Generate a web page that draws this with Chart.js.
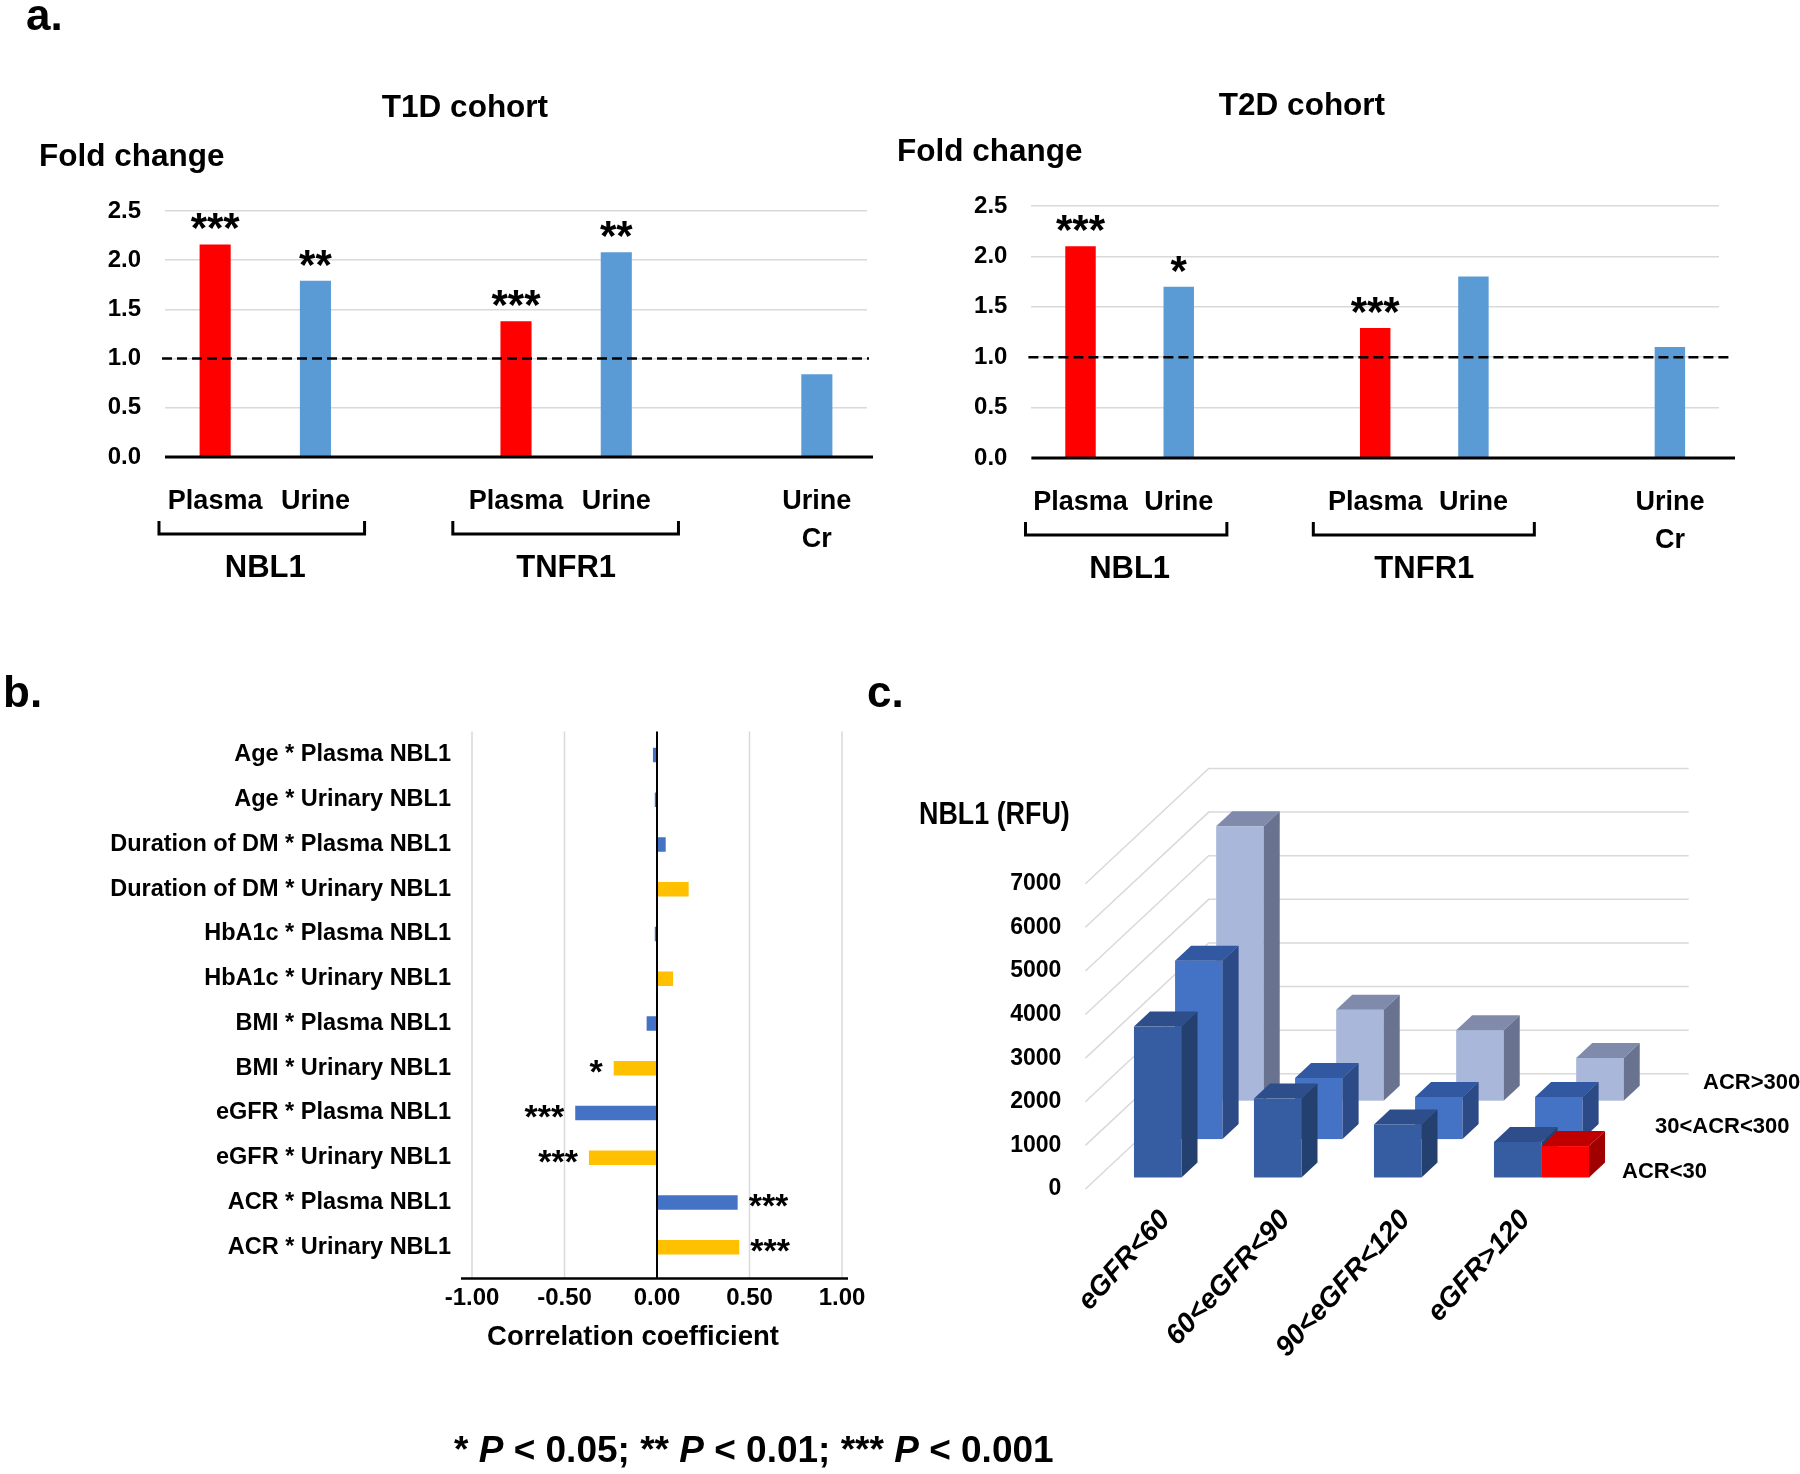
<!DOCTYPE html>
<html>
<head>
<meta charset="utf-8">
<title>NBL1 fold change, correlation and RFU</title>
<script src="https://cdn.jsdelivr.net/npm/chart.js@4.4.1/dist/chart.umd.min.js"></script>
<style>
  html, body { margin: 0; padding: 0; background: #fff; }
  #page { position: relative; width: 1800px; height: 1474px; overflow: hidden;
          font-family: "Liberation Sans", Arial, sans-serif; font-weight: bold; color: #000; }
  #page canvas { position: absolute; }
  .txt { position: absolute; white-space: nowrap; line-height: 1; }
  .narrow { transform: scaleX(0.84); transform-origin: 0 0; }
</style>
</head>
<body>
<div id="page">
  <canvas id="t1d" width="890" height="620" style="left:0;top:0"></canvas>
  <canvas id="t2d" width="910" height="620" style="left:890px;top:0"></canvas>
  <canvas id="corr" width="900" height="740" style="left:0;top:640px"></canvas>
  <canvas id="rfu" width="920" height="734" style="left:880px;top:740px"></canvas>

  <div class="txt" style="left:26px;top:-7px;font-size:44px">a.</div>
  <div class="txt" style="left:265px;top:91px;width:400px;text-align:center;font-size:31.5px">T1D cohort</div>
  <div class="txt" style="left:1102px;top:89px;width:400px;text-align:center;font-size:31.5px">T2D cohort</div>
  <div class="txt" style="left:39px;top:140px;font-size:31.5px">Fold change</div>
  <div class="txt" style="left:897px;top:135px;font-size:31.5px">Fold change</div>

  <div class="txt" style="left:3px;top:670px;font-size:44px">b.</div>
  <div class="txt" style="left:867px;top:670px;font-size:44px">c.</div>
  <div class="txt" style="left:433px;top:1322px;width:400px;text-align:center;font-size:27.5px">Correlation coefficient</div>

  <div class="txt narrow" style="left:919px;top:797px;font-size:32px">NBL1 (RFU)</div>
  <div class="txt" id="acr2" style="left:1703px;top:1071px;font-size:22px"></div>
  <div class="txt" id="acr1" style="left:1655px;top:1115px;font-size:22px"></div>
  <div class="txt" id="acr0" style="left:1622px;top:1160px;font-size:22px"></div>

  <div class="txt" style="left:454px;top:1431px;font-size:37px">* <i>P</i> &lt; 0.05; ** <i>P</i> &lt; 0.01; *** <i>P</i> &lt; 0.001</div>
</div>

<script>
/* ---- a. fold change ---- */
var foldLabels = ['Plasma', 'Urine', '', 'Plasma', 'Urine', '', ['Urine', 'Cr']];
var foldGroups = [['NBL1', 0, 1], ['TNFR1', 3, 4]];
var t1dFold = [2.16, 1.79, null, 1.38, 2.08, null, 0.84];
var t1dStars = ['***', '**', '', '***', '**', '', ''];
var t2dFold = [2.10, 1.70, null, 1.29, 1.80, null, 1.10];
var t2dStars = ['***', '*', '', '***', '', '', ''];
var foldRef = 1.0;

/* ---- b. correlation ---- */
var corrLabels = [
  'Age * Plasma NBL1', 'Age * Urinary NBL1',
  'Duration of DM * Plasma NBL1', 'Duration of DM * Urinary NBL1',
  'HbA1c * Plasma NBL1', 'HbA1c * Urinary NBL1',
  'BMI * Plasma NBL1', 'BMI * Urinary NBL1',
  'eGFR * Plasma NBL1', 'eGFR * Urinary NBL1',
  'ACR * Plasma NBL1', 'ACR * Urinary NBL1'
];
var corrValues = [-0.022, -0.012, 0.047, 0.171, -0.012, 0.087, -0.056, -0.234, -0.442, -0.368, 0.436, 0.445];
var corrStars = ['', '', '', '', '', '', '', '*', '***', '***', '***', '***'];

/* ---- c. NBL1 RFU by eGFR / ACR ---- */
var egfrGroups = ['eGFR<60', '60<eGFR<90', '90<eGFR<120', 'eGFR>120'];
var acrGroups = ['ACR<30', '30<ACR<300', 'ACR>300'];
var acrLow = [3460, 1810, 1215, 815];
var acrMid = [4090, 1400, 965, 965];
var acrHigh = [6290, 2085, 1615, 980];
var acrLowRef = [null, null, null, 720];

// colours
var RED = '#FF0000', SKY = '#5B9BD5', BLUE = '#4472C4', GOLD = '#FFC000', GRID = '#D9D9D9';
var foldColors = [RED, SKY, SKY, RED, SKY, SKY, SKY];
var corrColors = [BLUE, BLUE, BLUE, GOLD, BLUE, GOLD, BLUE, GOLD, BLUE, GOLD, BLUE, GOLD];
// bracket overhang, in category widths, left / right of each group
var bracketPad = [[0.56, 0.49], [0.63, 0.62]];

Chart.defaults.color = '#000';
Chart.defaults.font.family = '"Liberation Sans", Arial, sans-serif';
Chart.defaults.font.weight = 'bold';
Chart.defaults.animation = false;
Chart.defaults.plugins.legend.display = false;
Chart.defaults.plugins.tooltip.enabled = false;

/* dashed reference, base line, stars and brackets */
var foldPlugin = {
  id: 'foldExtras',
  afterDatasetsDraw: function(chart, args, o) {
    var ctx = chart.ctx, a = chart.chartArea, x = chart.scales.x, y = chart.scales.y;
    var slot = x.getPixelForValue(1) - x.getPixelForValue(0);
    var y0 = y.getPixelForValue(0), yr = y.getPixelForValue(foldRef);
    ctx.save();
    ctx.strokeStyle = '#000';
    ctx.lineWidth = 3;
    ctx.beginPath(); ctx.moveTo(a.left, y0); ctx.lineTo(a.right + o.ext, y0); ctx.stroke();

    ctx.lineWidth = 2.5;
    ctx.setLineDash([10, 5]);
    ctx.beginPath(); ctx.moveTo(a.left - 3, yr); ctx.lineTo(a.right + o.ext - 4, yr); ctx.stroke();
    ctx.setLineDash([]);

    ctx.fillStyle = '#000';
    ctx.textAlign = 'center';
    ctx.textBaseline = 'alphabetic';
    ctx.font = 'bold 42px "Liberation Sans", Arial';
    chart.getDatasetMeta(0).data.forEach(function(bar, i) {
      if (o.stars[i]) ctx.fillText(o.stars[i], bar.x, bar.y - 2);
    });

    ctx.font = 'bold 31px "Liberation Sans", Arial';
    ctx.lineWidth = 3;
    o.groups.forEach(function(g, k) {
      var l = x.getPixelForValue(g[1]) - bracketPad[k][0] * slot;
      var r = x.getPixelForValue(g[2]) + bracketPad[k][1] * slot;
      ctx.beginPath();
      ctx.moveTo(l, y0 + 64); ctx.lineTo(l, y0 + 77); ctx.lineTo(r, y0 + 77); ctx.lineTo(r, y0 + 64);
      ctx.stroke();
      ctx.fillText(g[0], (x.getPixelForValue(g[1]) + x.getPixelForValue(g[2])) / 2, y0 + 119.5);
    });
    ctx.restore();
  }
};

function foldChart(id, values, stars, box) {
  return new Chart(document.getElementById(id), {
    type: 'bar',
    data: {
      labels: foldLabels,
      datasets: [{ data: values, backgroundColor: foldColors, barPercentage: 0.31, categoryPercentage: 1 }]
    },
    options: {
      responsive: false,
      layout: { padding: { left: 0, top: box.top, right: box.right, bottom: 0 } },
      scales: {
        x: {
          grid: { display: false, drawTicks: false }, border: { display: false },
          ticks: { font: { size: 27, lineHeight: 1.42 }, padding: 25, maxRotation: 0, autoSkip: false },
          afterFit: function(s) { s.height = box.xh; }
        },
        y: {
          min: 0, max: 2.5,
          grid: { color: GRID, lineWidth: 1.5, drawTicks: false }, border: { display: false },
          ticks: { stepSize: 0.5, font: { size: 24 }, padding: 24, callback: function(v) { return v.toFixed(1); } },
          afterFit: function(s) { s.width = box.yw; }
        }
      },
      plugins: { foldExtras: { stars: stars, groups: foldGroups, ext: box.ext } }
    },
    plugins: [foldPlugin]
  });
}

foldChart('t1d', t1dFold, t1dStars, { top: 211, right: 23, xh: 163, yw: 165, ext: 6 });
foldChart('t2d', t2dFold, t2dStars, { top: 206, right: 81, xh: 162, yw: 141.4, ext: 16 });

/* grid, zero line, axis line and stars for the correlation bars */
var corrPlugin = {
  id: 'corrExtras',
  beforeDatasetsDraw: function(chart) {
    var ctx = chart.ctx, a = chart.chartArea, x = chart.scales.x;
    ctx.save();
    ctx.strokeStyle = GRID;
    ctx.lineWidth = 1.5;
    x.ticks.forEach(function(t) {
      if (Math.abs(t.value) < 1e-9) return;
      var px = x.getPixelForValue(t.value);
      ctx.beginPath(); ctx.moveTo(px, a.top - 1); ctx.lineTo(px, a.bottom + 9); ctx.stroke();
    });
    ctx.restore();
  },
  afterDatasetsDraw: function(chart, args, o) {
    var ctx = chart.ctx, a = chart.chartArea, x = chart.scales.x;
    var zx = x.getPixelForValue(0);
    ctx.save();
    ctx.strokeStyle = '#000';
    ctx.lineWidth = 2;
    ctx.beginPath(); ctx.moveTo(zx, a.top - 1); ctx.lineTo(zx, a.bottom + 9); ctx.stroke();
    ctx.lineWidth = 2.5;
    ctx.beginPath(); ctx.moveTo(a.left - 11, a.bottom + 9); ctx.lineTo(a.right + 6, a.bottom + 9); ctx.stroke();

    ctx.fillStyle = '#000';
    ctx.font = 'bold 34px "Liberation Sans", Arial';
    ctx.textBaseline = 'alphabetic';
    chart.getDatasetMeta(0).data.forEach(function(bar, i) {
      if (!o.stars[i]) return;
      var neg = corrValues[i] < 0;
      ctx.textAlign = neg ? 'right' : 'left';
      ctx.fillText(o.stars[i], bar.x + (neg ? -11 : 11), bar.y + 15);
    });
    ctx.restore();
  }
};

new Chart(document.getElementById('corr'), {
  type: 'bar',
  data: {
    labels: corrLabels,
    datasets: [{ data: corrValues, backgroundColor: corrColors, barPercentage: 0.32, categoryPercentage: 1 }]
  },
  options: {
    indexAxis: 'y',
    responsive: false,
    layout: { padding: { left: 0, top: 92.6, right: 58, bottom: 0 } },
    scales: {
      x: {
        min: -1, max: 1,
        grid: { display: false, drawTicks: false }, border: { display: false },
        ticks: { stepSize: 0.5, font: { size: 24 }, padding: 14, callback: function(v) { return v.toFixed(2); } },
        afterFit: function(s) { s.height = 110.4; }
      },
      y: {
        grid: { display: false, drawTicks: false }, border: { display: false },
        ticks: { font: { size: 23.5 }, padding: 21, autoSkip: false },
        afterFit: function(s) { s.width = 472; }
      }
    },
    plugins: { corrExtras: { stars: corrStars } }
  },
  plugins: [corrPlugin]
});

/* pseudo 3D columns: side wall, back wall and boxes drawn from the scales */
var cubePlugin = {
  id: 'cubes',
  geom: function(chart, o) {
    var x = chart.scales.x;
    var slot = x.getPixelForValue(1) - x.getPixelForValue(0);
    return { slot: slot, rdx: o.rowDx * slot, rdy: o.rowDy * slot, w: o.bar * slot };
  },
  beforeDatasetsDraw: function(chart, args, o) {
    var ctx = chart.ctx, a = chart.chartArea, y = chart.scales.y, g = this.geom(chart, o);
    var n = o.rows;
    ctx.save();
    ctx.strokeStyle = GRID;
    ctx.lineWidth = 1.5;
    y.ticks.forEach(function(t) {
      var py = y.getPixelForValue(t.value);
      ctx.beginPath();
      ctx.moveTo(a.left, py);
      ctx.lineTo(a.left + n * g.rdx, py + n * g.rdy);
      ctx.lineTo(a.right + n * g.rdx, py + n * g.rdy);
      ctx.stroke();
    });
    ctx.restore();
  },
  afterDatasetsDraw: function(chart, args, o) {
    var ctx = chart.ctx, x = chart.scales.x, y = chart.scales.y, g = this.geom(chart, o);
    var base = y.getPixelForValue(0);
    var ddx = o.depth * g.rdx, ddy = o.depth * g.rdy;
    ctx.save();
    chart.data.datasets.forEach(function(ds) {
      var k = ds.row + o.gap;
      ds.data.forEach(function(v, i) {
        if (v == null) return;
        var x0 = x.getPixelForValue(i) - g.w / 2 + k * g.rdx + (ds.shift || 0) * g.w;
        var yb = base + k * g.rdy, yt = y.getPixelForValue(v) + k * g.rdy;
        ctx.fillStyle = ds.faces[0];
        ctx.fillRect(x0, yt, g.w, yb - yt);
        ctx.fillStyle = ds.faces[1];
        ctx.beginPath();
        ctx.moveTo(x0, yt); ctx.lineTo(x0 + ddx, yt + ddy); ctx.lineTo(x0 + g.w + ddx, yt + ddy); ctx.lineTo(x0 + g.w, yt);
        ctx.closePath(); ctx.fill();
        ctx.fillStyle = ds.faces[2];
        ctx.beginPath();
        ctx.moveTo(x0 + g.w, yt); ctx.lineTo(x0 + g.w + ddx, yt + ddy); ctx.lineTo(x0 + g.w + ddx, yb + ddy); ctx.lineTo(x0 + g.w, yb);
        ctx.closePath(); ctx.fill();
      });
    });
    ctx.restore();
  }
};

var cubeSets = [
  { label: acrGroups[2], data: acrHigh, row: 2, faces: ['#A9B7DB', '#808AAB', '#69738F'] },
  { label: acrGroups[1], data: acrMid, row: 1, faces: ['#4472C4', '#3158A0', '#2C4A85'] },
  { label: acrGroups[0], data: acrLow, row: 0, faces: ['#365DA2', '#2D4E8B', '#24406F'] },
  { label: acrGroups[0], data: acrLowRef, row: 0, shift: 1, faces: ['#FF0000', '#C00000', '#A00000'] }
];
cubeSets.forEach(function(d) { d.backgroundColor = 'rgba(0,0,0,0)'; d.borderWidth = 0; });

new Chart(document.getElementById('rfu'), {
  type: 'bar',
  data: { labels: egfrGroups, datasets: cubeSets },
  options: {
    responsive: false,
    layout: { padding: { left: 0, top: 143.7, right: 234.6, bottom: 0 } },
    scales: {
      x: {
        grid: { display: false, drawTicks: false }, border: { display: false },
        ticks: {
          font: { size: 28, style: 'italic' },
          minRotation: 48, maxRotation: 48, labelOffset: 20, padding: 15, autoSkip: false
        },
        afterFit: function(s) { s.height = 285; }
      },
      y: {
        min: 0, max: 7000,
        grid: { display: false, drawTicks: false }, border: { display: false },
        ticks: { stepSize: 1000, font: { size: 23 }, padding: 24, callback: function(v) { return String(v); } },
        afterFit: function(s) { s.width = 205.4; }
      }
    },
    plugins: { cubes: { rows: 3, rowDx: 0.3425, rowDy: -0.32, bar: 0.396, depth: 0.39, gap: 0.3 } }
  },
  plugins: [cubePlugin]
});

acrGroups.forEach(function(name, i) { document.getElementById('acr' + i).textContent = name; });
</script>
</body>
</html>
